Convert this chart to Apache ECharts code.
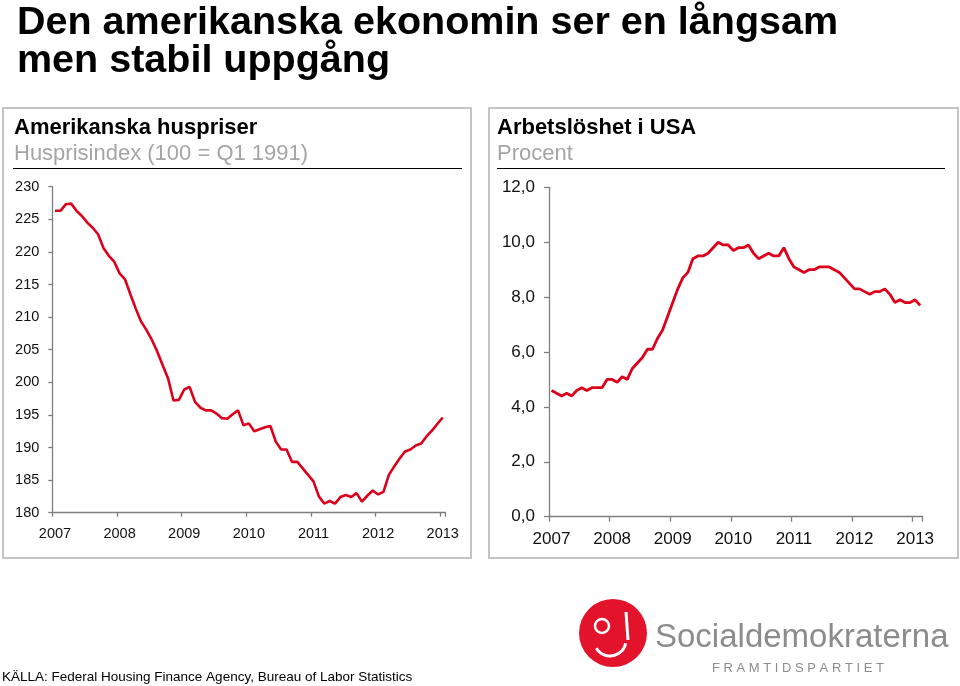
<!DOCTYPE html>
<html><head><meta charset="utf-8">
<script src="https://cdn.jsdelivr.net/npm/echarts@6/dist/echarts.min.js"></script>
<style>html,body{margin:0;padding:0;background:#fff}#c{width:960px;height:686px}</style>
</head><body><div id="c"></div>
<script>
// ---------- data ----------
const yearLabels = ['2007', '2008', '2009', '2010', '2011', '2012', '2013'];
const monthCodes = ['01','02','03','04','05','06','07','08','09','10','11','12'];

// FHFA house price index (100 = Q1 1991), monthly Jan 2007 - Jan 2013
const housePrice = [
  226.3, 226.3, 227.3, 227.4, 226.3, 225.5, 224.5, 223.7, 222.7, 220.6, 219.4, 218.5,
  216.7, 215.8, 213.5, 211.3, 209.3, 208.0, 206.5, 204.7, 202.6, 200.6, 197.2, 197.3,
  198.9, 199.3, 197.0, 196.1, 195.7, 195.7, 195.2, 194.5, 194.4, 195.1, 195.7, 193.4,
  193.7, 192.5, 192.8, 193.1, 193.3, 190.9, 189.7, 189.7, 187.8, 187.8, 186.8, 185.8,
  184.8, 182.5, 181.4, 181.8, 181.4, 182.4, 182.7, 182.4, 183.0, 181.7, 182.6, 183.4,
  182.8, 183.2, 185.8, 187.1, 188.3, 189.4, 189.7, 190.3, 190.6, 191.7, 192.6, 193.6,
  194.6
];

// US unemployment rate, percent, monthly Jan 2007 - Feb 2013
const unemployment = [
  4.6, 4.5, 4.4, 4.5, 4.4, 4.6, 4.7, 4.6, 4.7, 4.7, 4.7, 5.0,
  5.0, 4.9, 5.1, 5.0, 5.4, 5.6, 5.8, 6.1, 6.1, 6.5, 6.8, 7.3,
  7.8, 8.3, 8.7, 8.9, 9.4, 9.5, 9.5, 9.6, 9.8, 10.0, 9.9, 9.9,
  9.7, 9.8, 9.8, 9.9, 9.6, 9.4, 9.5, 9.6, 9.5, 9.5, 9.8, 9.4,
  9.1, 9.0, 8.9, 9.0, 9.0, 9.1, 9.1, 9.1, 9.0, 8.9, 8.7, 8.5,
  8.3, 8.3, 8.2, 8.1, 8.2, 8.2, 8.3, 8.1, 7.8, 7.9, 7.8, 7.8,
  7.9, 7.7
];

const houseTicks = [180, 230, 5];
const unempTicks = [0, 12, 2];

// month categories built from the year labels
function monthCategories(n) {
  const out = [];
  for (let i = 0; i < n; i++) out.push(yearLabels[Math.floor(i / 12)] + '-' + monthCodes[i % 12]);
  return out;
}
const houseCats = monthCategories(housePrice.length);
const unempCats = monthCategories(unemployment.length);

// ---------- chart ----------
const FONT = '"Liberation Sans", Arial, sans-serif';
const RED = '#dc001b';
const AXIS = '#7f7f7f';
const chart = echarts.init(document.getElementById('c'), null, {renderer: 'canvas'});

function xAxisFor(cats, gridIndex, fontSize, margin, tickLen) {
  return {
    type: 'category', gridIndex, data: cats, boundaryGap: true,
    axisLine: {lineStyle: {color: AXIS, width: 1.3}},
    axisTick: {show: true, length: tickLen, interval: (i) => i % 12 === 0, lineStyle: {color: AXIS, width: 1.3}},
    axisLabel: {
      interval: (i) => i % 12 === 0, margin, color: '#111', fontSize, fontFamily: FONT,
      formatter: (v) => v.slice(0, 4)
    },
    splitLine: {show: false}
  };
}
function yAxisFor(ticks, gridIndex, fontSize, margin, tickLen, fmt) {
  return {
    type: 'value', gridIndex, min: ticks[0], max: ticks[1], interval: ticks[2],
    axisLine: {show: true, lineStyle: {color: AXIS, width: 1.3}},
    axisTick: {show: true, length: tickLen, lineStyle: {color: AXIS, width: 1.3}},
    axisLabel: {margin, color: '#111', fontSize, fontFamily: FONT, formatter: fmt},
    splitLine: {show: false}
  };
}

const option = {
  backgroundColor: '#fff',
  animation: false,
  title: [{
    text: 'Den amerikanska ekonomin ser en långsam\nmen stabil uppgång',
    left: 17, top: 4, padding: 0,
    textStyle: {fontFamily: FONT, fontSize: 39.5, fontWeight: 'bold', color: '#000', lineHeight: 38}
  }],
  grid: [
    {left: 52.3, top: 186.7, width: 393.1, height: 326, containLabel: false},
    {left: 549, top: 187.3, width: 373.7, height: 329.4, containLabel: false}
  ],
  xAxis: [
    xAxisFor(houseCats, 0, 14.5, 14, 4),
    xAxisFor(unempCats, 1, 17, 14, 5)
  ],
  yAxis: [
    yAxisFor(houseTicks, 0, 14.5, 13, 4, (v) => String(v)),
    yAxisFor(unempTicks, 1, 17, 14, 5, (v) => v.toFixed(1).replace('.', ','))
  ],
  series: [
    {type: 'line', name: 'Huspriser', xAxisIndex: 0, yAxisIndex: 0, data: housePrice,
     showSymbol: false, lineStyle: {color: RED, width: 2.6}, itemStyle: {color: RED}},
    {type: 'line', name: 'Arbetslöshet', xAxisIndex: 1, yAxisIndex: 1, data: unemployment,
     showSymbol: false, lineStyle: {color: RED, width: 2.8}, itemStyle: {color: RED}}
  ],
  graphic: [
    // panel frames
    {type: 'rect', shape: {x: 3, y: 108, width: 468, height: 450}, style: {fill: 'none', stroke: '#c4c4c4', lineWidth: 2}, z: -1},
    {type: 'rect', shape: {x: 489, y: 108, width: 469, height: 450}, style: {fill: 'none', stroke: '#c4c4c4', lineWidth: 2}, z: -1},
    // header rules
    {type: 'line', shape: {x1: 13, y1: 168.5, x2: 462, y2: 168.5}, style: {stroke: '#000', lineWidth: 1}},
    {type: 'line', shape: {x1: 497, y1: 168.5, x2: 945, y2: 168.5}, style: {stroke: '#000', lineWidth: 1}},
    // panel titles
    {type: 'text', x: 14, y: 128, style: {text: 'Amerikanska huspriser', font: 'bold 22px ' + FONT, fill: '#000', verticalAlign: 'middle'}},
    {type: 'text', x: 14, y: 154, style: {text: 'Husprisindex (100 = Q1 1991)', font: '22px ' + FONT, fill: '#a5a5a5', verticalAlign: 'middle'}},
    {type: 'text', x: 497, y: 128, style: {text: 'Arbetslöshet i USA', font: 'bold 22px ' + FONT, fill: '#000', verticalAlign: 'middle'}},
    {type: 'text', x: 497, y: 154, style: {text: 'Procent', font: '22px ' + FONT, fill: '#a5a5a5', verticalAlign: 'middle'}},
    // source
    {type: 'text', x: 2, y: 677, style: {text: 'KÄLLA: Federal Housing Finance Agency, Bureau of Labor Statistics', font: '13.5px ' + FONT, fill: '#000', verticalAlign: 'middle'}},
    // logo
    {type: 'circle', shape: {cx: 613, cy: 633, r: 34}, style: {fill: '#e3132c'}},
    {type: 'arc', shape: {cx: 610, cy: 640, r: 16, startAngle: 0.2, endAngle: 2.6}, style: {stroke: '#fff', lineWidth: 3, fill: 'none'}},
    {type: 'arc', shape: {cx: 602, cy: 626, r: 7, startAngle: 0, endAngle: 6.28}, style: {stroke: '#fff', lineWidth: 2.5, fill: 'none'}},
    {type: 'line', shape: {x1: 626, y1: 612, x2: 628, y2: 640}, style: {stroke: '#fff', lineWidth: 3}},
    {type: 'text', x: 655, y: 638, style: {text: 'Socialdemokraterna', font: '33px ' + FONT, fill: '#8c8c8c', verticalAlign: 'middle'}},
    {type: 'text', x: 712, y: 668, style: {text: 'F R A M T I D S P A R T I E T', font: '13px ' + FONT, fill: '#8c8c8c', verticalAlign: 'middle'}}
  ]
};
chart.setOption(option);
</script>
</body></html>
